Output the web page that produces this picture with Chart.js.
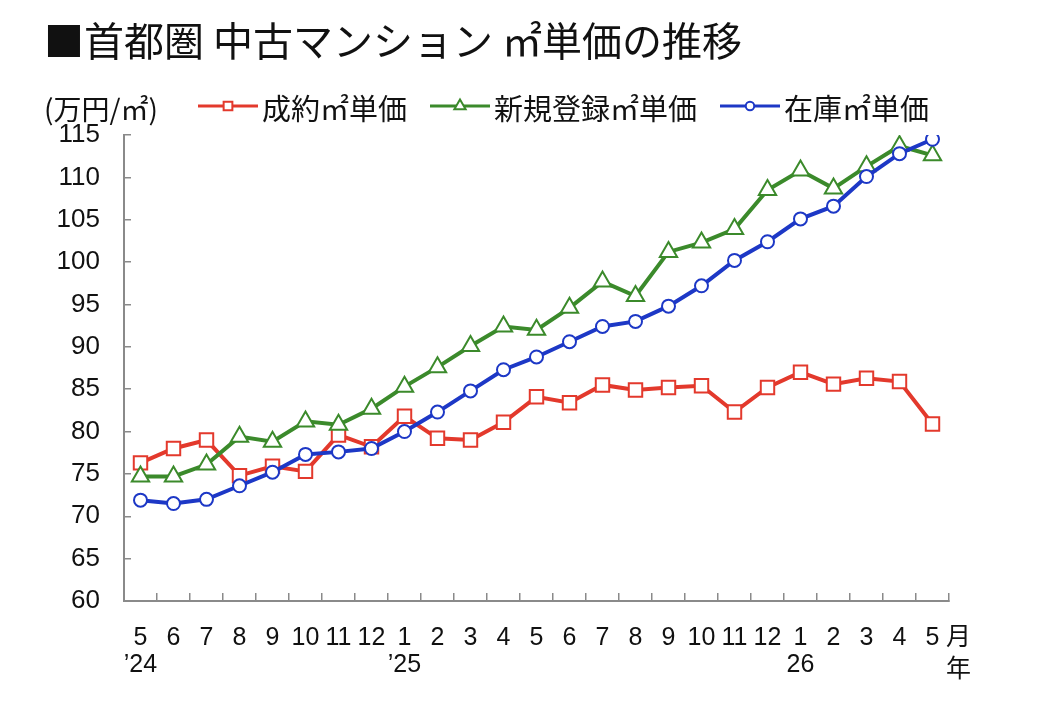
<!DOCTYPE html>
<html lang="ja">
<head>
<meta charset="utf-8">
<title>首都圏 中古マンション ㎡単価の推移</title>
<script src="https://cdn.jsdelivr.net/npm/chart.js@4.4.1/dist/chart.umd.min.js"></script>
<style>
  html, body { margin: 0; padding: 0; background: #fff; }
  #wrap { width: 1059px; height: 714px; }
</style>
</head>
<body>
<div id="wrap"><canvas id="priceChart"></canvas></div>
<script>
// 月ラベル（'24年5月〜'26年5月）と年ラベル
const months = ['5', '6', '7', '8', '9', '10', '11', '12', '1', '2', '3', '4', '5', '6', '7', '8', '9', '10', '11', '12', '1', '2', '3', '4', '5'];
const years = ['’24', '', '', '', '', '', '', '', '’25', '', '', '', '', '', '', '', '', '', '', '', '26', '', '', '', ''];

// 成約㎡単価（万円/㎡）
const seiyaku = [76.3, 78.0, 79.0, 74.8, 75.9, 75.3, 79.6, 78.2, 81.8, 79.2, 79.0, 81.1, 84.1, 83.4, 85.5, 84.9, 85.2, 85.4, 82.3, 85.2, 87.0, 85.6, 86.3, 85.9, 80.9];
// 新規登録㎡単価
const shinki = [74.7, 74.7, 76.1, 79.4, 78.8, 81.2, 80.8, 82.7, 85.3, 87.6, 90.1, 92.4, 92.0, 94.6, 97.7, 96.0, 101.2, 102.3, 103.9, 108.5, 110.8, 108.7, 111.3, 113.7, 112.6];
// 在庫㎡単価
const zaiko = [71.9, 71.5, 72.0, 73.6, 75.2, 77.3, 77.6, 78.0, 80.0, 82.3, 84.8, 87.3, 88.8, 90.6, 92.4, 93.0, 94.8, 97.2, 100.2, 102.4, 105.1, 106.6, 110.1, 112.8, 114.5];

// 縦軸の目盛り
const yMin = 60;
const yMax = 115;
const yStep = 5;

const RED = '#e3392c';
const GREEN = '#3b8a2b';
const BLUE = '#1d38c6';
const AXIS = '#8a8a8a';
const NUM_FONT = '"Liberation Sans", "Noto Sans CJK JP", sans-serif';
const JP_FONT = '"Noto Sans CJK JP", sans-serif';

// 凡例（線＋マーカー）と単位、「月」「年」を描く
const legendPlugin = {
  id: 'seriesLegend',
  afterDraw(chart) {
    const ctx = chart.ctx;
    const lineY = 106;
    const textY = 109;
    ctx.save();
    ctx.textBaseline = 'middle';
    ctx.textAlign = 'left';
    ctx.fillStyle = '#111';
    ctx.font = '28px ' + JP_FONT;
    ctx.fillText('(万円/㎡)', 44, textY);

    ctx.font = '29px ' + JP_FONT;
    let x = 198;
    chart.data.datasets.forEach(ds => {
      ctx.strokeStyle = ds.borderColor;
      ctx.lineWidth = 3;
      ctx.beginPath();
      ctx.moveTo(x, lineY);
      ctx.lineTo(x + 60, lineY);
      ctx.stroke();

      ctx.fillStyle = '#fff';
      ctx.lineWidth = 2;
      Chart.helpers.drawPoint(ctx, {
        pointStyle: ds.pointStyle,
        radius: ds.pointRadius * 0.65,
        borderWidth: 2,
        rotation: 0
      }, x + 30, lineY);

      ctx.fillStyle = '#111';
      ctx.fillText(ds.label, x + 64, textY);
      x += 64 + ctx.measureText(ds.label).width + 23;
    });

    // 横軸の単位
    const xs = chart.scales.x;
    const lh = 27.5;
    const rowY = xs.top - 8 + 31 + lh / 2;
    const lastX = xs.getPixelForValue(months.length - 1);
    ctx.font = '25px ' + NUM_FONT;
    ctx.textAlign = 'center';
    ctx.fillText('月', lastX + 26, rowY);
    ctx.fillText('年', lastX + 26, rowY + lh + 5);
    ctx.restore();
  }
};

const ctx = document.getElementById('priceChart').getContext('2d');
new Chart(ctx, {
  type: 'line',
  data: {
    labels: months.map((m, i) => [m, years[i]]),
    datasets: [
      {
        label: '成約㎡単価',
        data: seiyaku,
        borderColor: RED,
        backgroundColor: RED,
        pointStyle: 'rect',
        pointRadius: 9.5,
        pointBackgroundColor: '#fff',
        pointBorderColor: RED,
        pointBorderWidth: 2,
        borderWidth: 4,
        order: 2
      },
      {
        label: '新規登録㎡単価',
        data: shinki,
        borderColor: GREEN,
        backgroundColor: GREEN,
        pointStyle: 'triangle',
        pointRadius: 10,
        pointBackgroundColor: '#fff',
        pointBorderColor: GREEN,
        pointBorderWidth: 2,
        borderWidth: 4,
        order: 1
      },
      {
        label: '在庫㎡単価',
        data: zaiko,
        borderColor: BLUE,
        backgroundColor: BLUE,
        pointStyle: 'circle',
        pointRadius: 6.5,
        pointBackgroundColor: '#fff',
        pointBorderColor: BLUE,
        pointBorderWidth: 2,
        borderWidth: 4,
        order: 0
      }
    ]
  },
  options: {
    responsive: true,
    maintainAspectRatio: false,
    animation: false,
    devicePixelRatio: 1,
    layout: {
      padding: { left: 44, right: 110, top: 0, bottom: 0 }
    },
    plugins: {
      legend: { display: false },
      tooltip: { enabled: false },
      title: {
        display: true,
        text: '■首都圏 中古マンション ㎡単価の推移',
        align: 'start',
        color: '#111',
        font: { family: JP_FONT, size: 40, weight: 'normal', lineHeight: 1.2 },
        padding: { top: 17, bottom: 70 }
      }
    },
    scales: {
      x: {
        offset: true,
        afterFit(scale) { scale.height = 113; },
        grid: {
          offset: true,
          drawOnChartArea: false,
          tickLength: -8,
          color: AXIS,
          lineWidth: 1.5
        },
        border: { color: AXIS, width: 2 },
        ticks: {
          autoSkip: false,
          maxRotation: 0,
          padding: 31,
          color: '#111',
          font: { family: NUM_FONT, size: 25, lineHeight: 1.1 }
        }
      },
      y: {
        min: yMin,
        max: yMax,
        afterFit(scale) { scale.width = 80; },
        grid: {
          drawOnChartArea: false,
          tickLength: -7,
          color: AXIS,
          lineWidth: 1.5
        },
        border: { color: AXIS, width: 2 },
        ticks: {
          stepSize: yStep,
          padding: 31,
          color: '#111',
          font: { family: NUM_FONT, size: 26 }
        }
      }
    }
  },
  plugins: [legendPlugin]
});
</script>
</body>
</html>
